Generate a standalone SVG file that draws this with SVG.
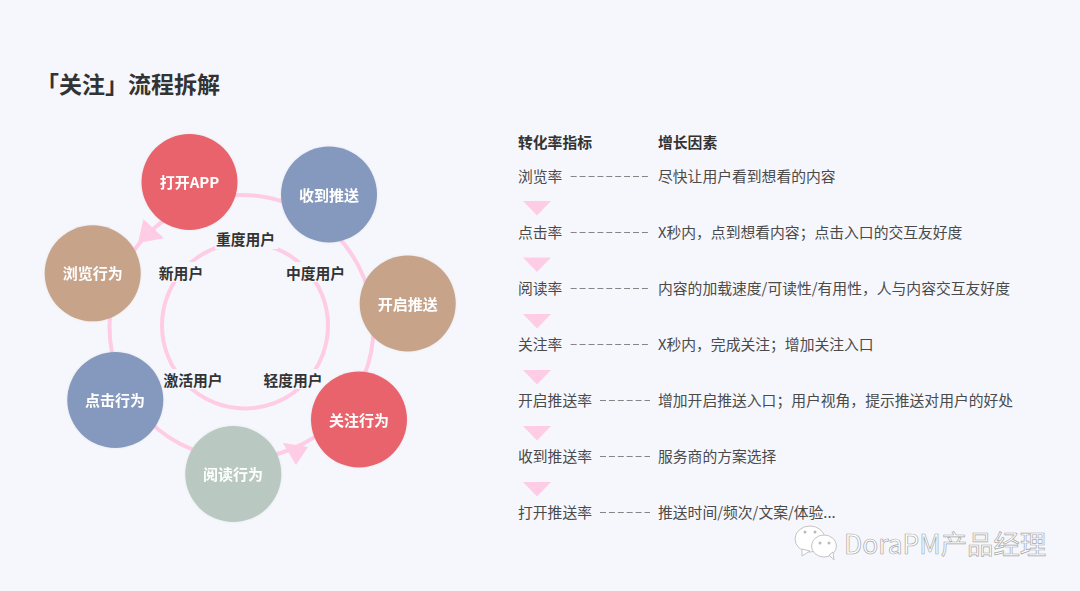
<svg xmlns="http://www.w3.org/2000/svg" width="1080" height="591" viewBox="0 0 1080 591">
<defs>
<filter id="soft" x="-10%" y="-10%" width="120%" height="120%"><feDropShadow dx="0" dy="0" stdDeviation="1" flood-color="#8a8a9a" flood-opacity="0.18"/></filter>
<path id="tri" d="M-14 0H14L0 14.500Z" fill="#ffcce6"/>
</defs>
<style>
text{font-family:"Microsoft YaHei","Noto Sans CJK SC","Noto Sans",sans-serif}
.c{fill:#fff;font-size:15px;font-weight:700;text-anchor:middle;dominant-baseline:central}
.u{fill:#333;font-size:14.800px;font-weight:700;text-anchor:middle;dominant-baseline:central}
.r{fill:#4a4a4a;font-size:14.800px;dominant-baseline:central}
.h{fill:#333;font-size:14.800px;font-weight:700;dominant-baseline:central}
.ring{fill:none;stroke:#ffcce6;stroke-width:4}
.dash{stroke:#858585;stroke-width:1;stroke-dasharray:6 2.900}
.n{filter:url(#soft)}
</style>
<rect width="1080" height="591" fill="#f6f7fc"/>
<text x="36" y="82.500" font-size="23" font-weight="700" fill="#333" dominant-baseline="central">「关注」流程拆解</text>
<g id="connectors">
<circle class="ring" cx="241.500" cy="327" r="132"/>
<circle class="ring" cx="245" cy="325.500" r="83"/>
<path d="M143.300 219L164 238.300L138 243Z" fill="#ffcce6"/>
<path d="M282.700 442.700L308 447L296 465Z" fill="#ffcce6"/>
<line class="dash" x1="570.700" y1="176.500" x2="650" y2="176.500"/>
<line class="dash" x1="570.700" y1="232.500" x2="650" y2="232.500"/>
<line class="dash" x1="570.700" y1="288.500" x2="650" y2="288.500"/>
<line class="dash" x1="570.700" y1="344.500" x2="650" y2="344.500"/>
<line class="dash" x1="600" y1="400.500" x2="650" y2="400.500"/>
<line class="dash" x1="600" y1="456.500" x2="650" y2="456.500"/>
<line class="dash" x1="600" y1="512.500" x2="650" y2="512.500"/>
<use href="#tri" x="537" y="201"/>
<use href="#tri" x="537" y="257.500"/>
<use href="#tri" x="537" y="314"/>
<use href="#tri" x="537" y="370"/>
<use href="#tri" x="537" y="426"/>
<use href="#tri" x="537" y="482"/>
</g>
<g id="inner-labels">
<rect x="215" y="229" width="63" height="20" fill="#f6f7fc"/>
<rect x="157" y="262" width="50" height="20" fill="#f6f7fc"/>
<rect x="284" y="262" width="62" height="20" fill="#f6f7fc"/>
<rect x="162" y="369" width="62" height="20" fill="#f6f7fc"/>
<rect x="262" y="369" width="62" height="20" fill="#f6f7fc"/>
<text class="u" x="245.500" y="238.500">重度用户</text>
<text class="u" x="181" y="272.500">新用户</text>
<text class="u" x="315.500" y="272.500">中度用户</text>
<text class="u" x="193" y="379">激活用户</text>
<text class="u" x="293" y="379">轻度用户</text>
</g>
<g id="n1" class="n"><circle cx="189.500" cy="182" r="48" fill="#e8636c"/><text class="c" x="189.500" y="181.500">打开APP</text></g>
<g id="n2" class="n"><circle cx="329" cy="194.500" r="48" fill="#8599bf"/><text class="c" x="329" y="194">收到推送</text></g>
<g id="n3" class="n"><circle cx="407.700" cy="303.500" r="48" fill="#c7a38a"/><text class="c" x="407.700" y="303">开启推送</text></g>
<g id="n4" class="n"><circle cx="359" cy="419.500" r="48" fill="#e8636c"/><text class="c" x="359" y="419">关注行为</text></g>
<g id="n5" class="n"><circle cx="233.300" cy="474" r="48" fill="#b9c9c1"/><text class="c" x="233" y="473.500">阅读行为</text></g>
<g id="n6" class="n"><circle cx="115.300" cy="400" r="48" fill="#8599bf"/><text class="c" x="115" y="399.500">点击行为</text></g>
<g id="n7" class="n"><circle cx="92.700" cy="273.300" r="48" fill="#c7a38a"/><text class="c" x="92.700" y="272.500">浏览行为</text></g>
<g id="table">
<text class="h" x="518" y="141">转化率指标</text>
<text class="h" x="658" y="141">增长因素</text>
<text class="r" x="518" y="175">浏览率</text>
<text class="r" x="658" y="175">尽快让用户看到想看的内容</text>
<text class="r" x="518" y="231.500">点击率</text>
<text class="r" x="658" y="231.500">X秒内，点到想看内容；点击入口的交互友好度</text>
<text class="r" x="518" y="287.500">阅读率</text>
<text class="r" x="658" y="287.500">内容的加载速度/可读性/有用性，人与内容交互友好度</text>
<text class="r" x="518" y="343.500">关注率</text>
<text class="r" x="658" y="343.500">X秒内，完成关注；增加关注入口</text>
<text class="r" x="518" y="399.500">开启推送率</text>
<text class="r" x="658" y="399.500">增加开启推送入口；用户视角，提示推送对用户的好处</text>
<text class="r" x="518" y="455.500">收到推送率</text>
<text class="r" x="658" y="455.500">服务商的方案选择</text>
<text class="r" x="518" y="511.500">打开推送率</text>
<text class="r" x="658" y="511.500">推送时间/频次/文案/体验...</text>
</g>
<g id="watermark">
<ellipse cx="810" cy="539" rx="15" ry="13" fill="#fff" stroke="#c4c4c4"/>
<path d="M802 549L802 556L810 551Z" fill="#fff" stroke="#c4c4c4"/>
<ellipse cx="824" cy="546" rx="12.500" ry="11" fill="#fff" stroke="#c4c4c4"/>
<path d="M829 555L834 560L833 552Z" fill="#fff" stroke="#c4c4c4"/>
<circle cx="805" cy="532" r="1.500" fill="#bbb"/><circle cx="815" cy="532" r="1.500" fill="#bbb"/>
<circle cx="820" cy="543" r="1.500" fill="#bbb"/><circle cx="829" cy="543" r="1.500" fill="#bbb"/>
<text x="844" y="542" font-size="26.400" fill="#fff" stroke="#a8a8a8" stroke-width="0.700" dominant-baseline="central">DoraPM产品经理</text>
</g>
</svg>
